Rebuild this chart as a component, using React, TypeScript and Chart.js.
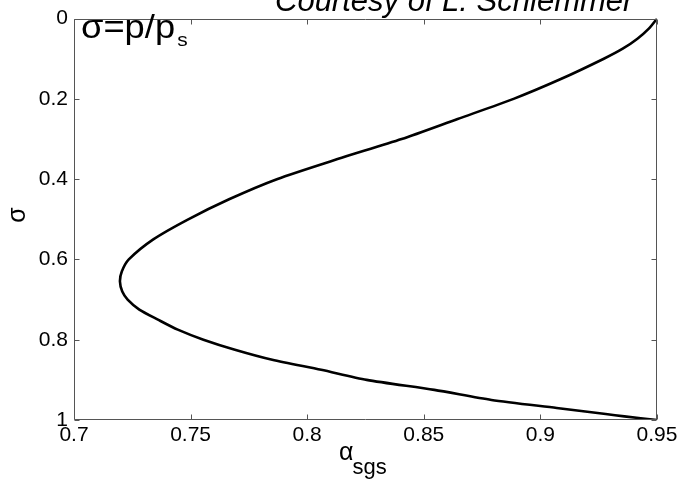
import React, { useEffect, useRef } from "react";
import { Chart, registerables } from "chart.js";

Chart.register(...registerables);

// alpha_sgs (x) vs sigma = p/p_s (y, reversed)
const alphaValues = [
  0.95, 0.9465, 0.9416, 0.9353, 0.9272, 0.909, 0.8885, 0.8645, 0.8405, 0.813,
  0.787, 0.7665, 0.749, 0.734, 0.7235, 0.7205, 0.7197, 0.7207, 0.723, 0.728,
  0.736, 0.7445, 0.7555, 0.769, 0.785, 0.806, 0.8255, 0.8545, 0.879, 0.907,
  0.928, 0.936, 0.95,
];
const sigmaValues = [
  0, 0.025, 0.05, 0.075, 0.1, 0.15, 0.2, 0.25, 0.3, 0.35,
  0.4, 0.45, 0.5, 0.55, 0.6, 0.63, 0.655, 0.68, 0.7, 0.725,
  0.75, 0.775, 0.8, 0.825, 0.85, 0.875, 0.9, 0.925, 0.95, 0.97,
  0.985, 0.991, 1.0,
];
const xTicks = [0.7, 0.75, 0.8, 0.85, 0.9, 0.95];
const yTicks = [0, 0.2, 0.4, 0.6, 0.8, 1];
const titleText = "Courtesy of L. Schlemmer";
const insetMain = "σ=p/p";
const insetSub = "s";
const xLabelMain = "α";
const xLabelSub = "sgs";
const yLabel = "σ";

const FONT = "'Liberation Sans', Arial, Helvetica, sans-serif";

const fmt = (v: number) => String(parseFloat(Number(v).toFixed(2)));

const framePlugin = {
  id: "frame",
  afterDraw(chart: any) {
    const { ctx, chartArea: a, scales } = chart;
    const xs = scales.x;
    const ys = scales.y;
    ctx.save();
    ctx.strokeStyle = "#555";
    ctx.lineWidth = 1;
    const l = Math.round(a.left) + 0.5;
    const r = Math.round(a.right) - 0.5;
    const t = Math.round(a.top) + 0.5;
    const b = Math.round(a.bottom) - 0.5;
    ctx.beginPath();
    ctx.rect(l, t, r - l, b - t);
    const L = 5;
    xTicks.forEach((v) => {
      const px = Math.round(xs.getPixelForValue(v)) + 0.5;
      ctx.moveTo(px, b);
      ctx.lineTo(px, b - L);
      ctx.moveTo(px, t);
      ctx.lineTo(px, t + L);
    });
    yTicks.forEach((v) => {
      const py = Math.round(ys.getPixelForValue(v)) + 0.5;
      ctx.moveTo(l, py);
      ctx.lineTo(l + L, py);
      ctx.moveTo(r, py);
      ctx.lineTo(r - L, py);
    });
    ctx.stroke();

    ctx.fillStyle = "#000";
    ctx.textAlign = "left";
    ctx.textBaseline = "alphabetic";

    // clipped title at the top
    ctx.font = `italic 31px ${FONT}`;
    ctx.fillText(titleText, 275, 11);

    // inset label (slightly wide lettering)
    ctx.save();
    ctx.translate(81, 38);
    ctx.scale(1.1, 1);
    ctx.font = `33px ${FONT}`;
    ctx.fillText(insetMain, 0, 0);
    const w = ctx.measureText(insetMain).width;
    ctx.font = `19px ${FONT}`;
    ctx.fillText(insetSub, w + 2, 8);
    ctx.restore();

    // x axis label
    ctx.font = `25px ${FONT}`;
    ctx.fillText(xLabelMain, 339, 460);
    const wa = ctx.measureText(xLabelMain).width;
    ctx.font = `22px ${FONT}`;
    ctx.fillText(xLabelSub, 339 + wa - 1, 474);

    // y axis label
    ctx.translate(18, 215);
    ctx.rotate(-Math.PI / 2);
    ctx.font = `25px ${FONT}`;
    ctx.textAlign = "center";
    ctx.textBaseline = "middle";
    ctx.fillText(yLabel, 0, 0);
    ctx.restore();
  },
};

export default function App() {
  const ref = useRef<HTMLCanvasElement | null>(null);
  useEffect(() => {
    if (!ref.current) return;
    const data = alphaValues.map((x, i) => ({ x, y: sigmaValues[i] }));
    const chart = new Chart(ref.current, {
      type: "scatter",
      data: {
        datasets: [
          {
            data,
            showLine: true,
            borderColor: "#000",
            borderWidth: 2.6,
            pointRadius: 0,
            tension: 0.25,
            fill: false,
          },
        ],
      },
      options: {
        responsive: false,
        animation: false,
        devicePixelRatio: 1,
        layout: { padding: { top: 13, right: 24, left: 0, bottom: 0 } },
        plugins: { legend: { display: false }, tooltip: { enabled: false } },
        scales: {
          x: {
            type: "linear",
            min: 0.7,
            max: 0.95,
            grid: { display: false, drawTicks: false },
            border: { display: false },
            afterBuildTicks: (s: any) => {
              s.ticks = xTicks.map((v) => ({ value: v }));
            },
            afterFit: (s: any) => {
              s.height = 59;
            },
            ticks: {
              autoSkip: false,
              maxRotation: 0,
              padding: 3,
              color: "#000",
              font: { family: FONT, size: 21 },
              callback: (v: any) => fmt(v),
            },
          },
          y: {
            type: "linear",
            reverse: true,
            min: 0,
            max: 1,
            grid: { display: false, drawTicks: false },
            border: { display: false },
            afterBuildTicks: (s: any) => {
              s.ticks = yTicks.map((v) => ({ value: v }));
            },
            afterFit: (s: any) => {
              s.width = 74;
            },
            ticks: {
              autoSkip: false,
              padding: 6,
              color: "#000",
              font: { family: FONT, size: 21 },
              callback: (v: any) => fmt(v),
            },
          },
        },
      },
      plugins: [framePlugin],
    });
    return () => chart.destroy();
  }, []);
  return (
    <div style={{ position: "absolute", left: 0, top: 0, width: 681, height: 479, background: "#fff" }}>
      <canvas ref={ref} width={681} height={479} style={{ display: "block" }} />
    </div>
  );
}
